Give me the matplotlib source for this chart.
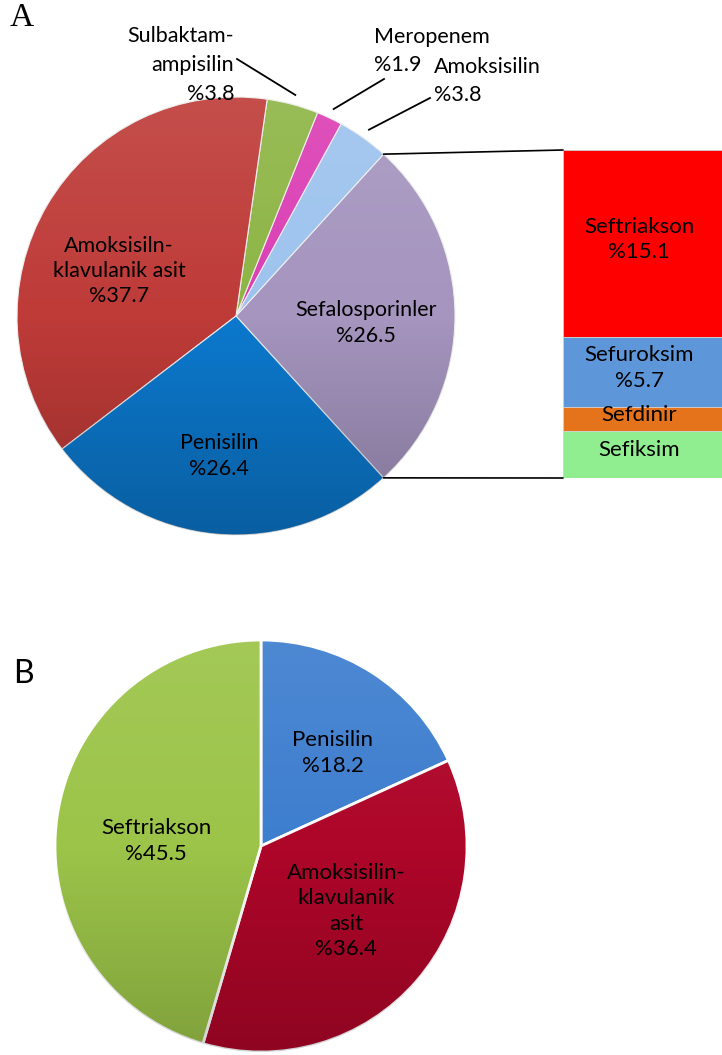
import numpy as np
import matplotlib
matplotlib.use("Agg")
import matplotlib.pyplot as plt
from matplotlib.patches import ConnectionPatch

plt.rcParams["font.family"] = ["Lato", "DejaVu Sans"]

# ---- data: panel A (pie) ----
a_labels = ["Sefalosporinler", "Amoksisilin", "Meropenem", "Sulbaktam-\nampisilin",
            "Amoksisiln-\nklavulanik asit", "Penisilin"]
a_values = [26.5, 3.8, 1.9, 3.8, 37.7, 26.4]
a_colors = ["#A595BF", "#9DC3EE", "#DB3FB4", "#8DB545", "#BE3B38", "#0C79CE"]

# ---- data: panel A (cephalosporin breakdown bar) ----
b_labels = ["Seftriakson", "Sefuroksim", "Sefdinir", "Sefiksim"]
b_values = [15.1, 5.7, 1.9, 3.8]
b_show_pct = [True, True, False, False]
b_colors = ["#FF0000", "#5D97DA", "#E5731B", "#90EE90"]

# ---- data: panel B (pie) ----
c_labels = ["Penisilin", "Amoksisilin-\nklavulanik\nasit", "Seftriakson"]
c_values = [18.2, 36.4, 45.5]
c_colors = ["#3E7ECF", "#AE0629", "#9CC449"]

W, H = 722, 1055
fig = plt.figure(figsize=(W / 100, H / 100), dpi=100)
ax = fig.add_axes([0, 0, 1, 1])


def Y(y):
    return H - y


def pct(v):
    return f"%{v}"


def shade(wedges, cx, cy, r, top_a=0.10, bot_a=0.22):
    """Soft top-light / bottom-dark gradient clipped to each wedge."""
    n = 256
    t = np.linspace(0, 1, n)[:, None] * np.ones((1, 2))
    img = np.zeros((n, 2, 4))
    white = t < 0.5
    for k in range(3):
        img[..., k] = np.where(white, 1.0, 0.0)
    img[..., 3] = np.where(white, top_a * (1 - 2 * t), bot_a * (2 * t - 1))
    for w in wedges:
        im = ax.imshow(img, extent=(cx - r, cx + r, cy - r, cy + r), origin="upper",
                       interpolation="bilinear", zorder=1.5)
        im.set_clip_path(w)


FS = 15.5
LS = 1.33
LINE_PX = 28.5

# ---------- panel A pie ----------
a_total = sum(a_values)
a_start = -a_values[0] / a_total * 360 / 2
a_center = (236, Y(316))
a_r = 219
wedges_a, _ = ax.pie(a_values, colors=a_colors, startangle=a_start, counterclock=True,
                     center=a_center, radius=a_r,
                     wedgeprops=dict(edgecolor="#eeeeee", linewidth=0.8))
shade(wedges_a, *a_center, a_r)

inner_pos = {0: (366, 323), 4: (119, 271), 5: (219, 456)}
for i, (x, y) in inner_pos.items():
    ax.text(x, Y(y), f"{a_labels[i]}\n{pct(a_values[i])}", ha="center", va="center",
            fontsize=FS, linespacing=LS, zorder=5)

# outside labels with leader lines (one text per line so the blocks can interleave)
outer = {3: dict(xy=(234, 65), ha="right", line_end=(237, 59)),
         2: dict(xy=(374, 51), ha="left", line_end=(384, 79)),
         1: dict(xy=(434, 81), ha="left", line_end=(430, 98))}
cum = np.concatenate([[0], np.cumsum(a_values)])
for i, o in outer.items():
    mid = np.deg2rad(a_start + (cum[i] + cum[i + 1]) / 2 / a_total * 360)
    px = a_center[0] + a_r * 1.045 * np.cos(mid)
    py = a_center[1] + a_r * 1.045 * np.sin(mid)
    ax.plot([px, o["line_end"][0]], [py, Y(o["line_end"][1])], color="black", lw=1.3)
    lines = f"{a_labels[i]}\n{pct(a_values[i])}".split("\n")
    n = len(lines)
    for j, line in enumerate(lines):
        yy = o["xy"][1] + (j - (n - 1) / 2) * LINE_PX
        ax.text(o["xy"][0], Y(yy), line, ha=o["ha"], va="center", fontsize=FS)

# ---------- panel B pie ----------
c_center = (261, Y(846))
c_r = 206
wedges_c, _ = ax.pie(c_values, colors=c_colors, startangle=90, counterclock=False,
                     center=c_center, radius=c_r,
                     wedgeprops=dict(edgecolor="white", linewidth=2))
shade(wedges_c, *c_center, c_r, top_a=0.08, bot_a=0.18)
c_pos = [(333, 753), (346, 911), (156, 841)]
for lab, v, (x, y) in zip(c_labels, c_values, c_pos):
    ax.text(x, Y(y), f"{lab}\n{pct(v)}", ha="center", va="center",
            fontsize=16, linespacing=1.33, zorder=5)

ax.set_xlim(0, W)
ax.set_ylim(0, H)
ax.set_aspect("equal")
ax.axis("off")

# panel letters
ax.text(10, Y(26), "A", fontsize=24, family="Liberation Serif", ha="left", va="baseline")
ax.text(13, Y(683), "B", fontsize=23, ha="left", va="baseline")

# ---------- breakdown bar ----------
bx0, by0, bw, bh = 563, 150, 162, 328
axb = fig.add_axes([bx0 / W, (H - by0 - bh) / H, bw / W, bh / H])
b_total = sum(b_values)
bottom = 0
for lab, v, c, show in zip(b_labels, b_values, b_colors, b_show_pct):
    axb.bar(0, v, bottom=bottom, width=1, color=c, edgecolor="#d0d0d0", linewidth=0.6)
    txt = f"{lab}\n{pct(v)}" if show else lab
    axb.annotate(txt, (-0.03, bottom + v / 2), xytext=(0, 3), textcoords="offset points",
                 ha="center", va="center", fontsize=16, linespacing=LS)
    bottom += v
axb.set_xlim(-0.5, 0.5)
axb.set_ylim(b_total, 0)
axb.axis("off")

# connectors from the cephalosporin wedge edges to the bar corners
for ang, yb in [(a_start + a_values[0] / a_total * 360, 0), (a_start, b_total)]:
    t = np.deg2rad(ang)
    p = (a_center[0] + a_r * np.cos(t), a_center[1] + a_r * np.sin(t))
    con = ConnectionPatch(xyA=p, coordsA=ax.transData, xyB=(-0.5, yb),
                          coordsB=axb.transData, color="black", lw=1.2)
    fig.add_artist(con)

fig.savefig("out.png", dpi=100)
